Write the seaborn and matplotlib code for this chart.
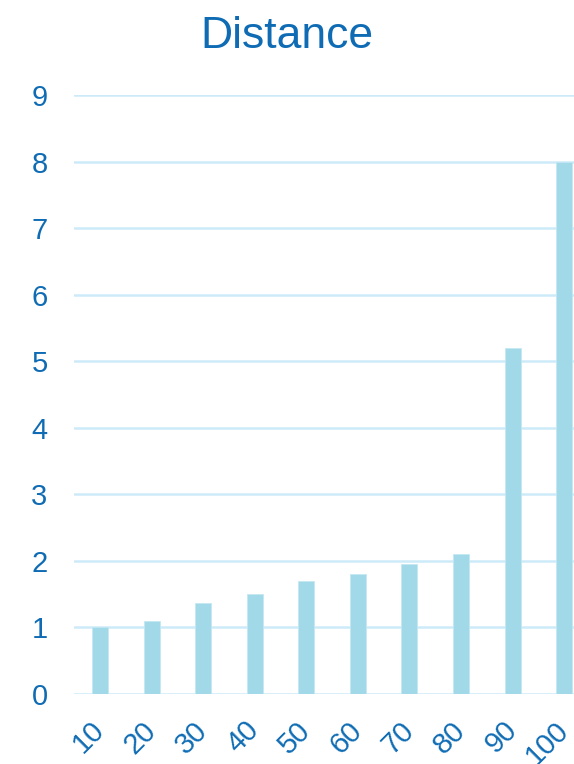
import matplotlib
matplotlib.use("Agg")
import matplotlib.pyplot as plt
import seaborn as sns
import pandas as pd

categories = ["10", "20", "30", "40", "50", "60", "70", "80", "90", "100"]
values = [1.0, 1.1, 1.36, 1.5, 1.7, 1.8, 1.95, 2.1, 5.2, 8.0]
yticks = [0, 1, 2, 3, 4, 5, 6, 7, 8, 9]
title = "Distance"

sns.set_theme(style="white")
plt.rcParams['font.family'] = ['Liberation Sans', 'DejaVu Sans']

TEXT = "#0f6cb4"
BAR = "#a2d9e8"
GRID = "#cdeaf9"

fig = plt.figure(figsize=(5.74, 7.64), dpi=100)
ax = fig.add_axes([74 / 574, 0.0916, 500 / 574, 0.7841])

df = pd.DataFrame({"cat": categories, "val": values})
sns.barplot(data=df, x="cat", y="val", ax=ax, color=BAR, saturation=1,
            width=0.31, edgecolor="#c4e8f2", linewidth=0.6, zorder=3)

ax.set_ylim(0, 9)
ax.set_xlim(-0.504, 9.19)
ax.set_yticks(yticks)
ax.set_yticklabels([str(t) for t in yticks])
ax.yaxis.grid(True, color=GRID, linewidth=1.8, zorder=0)
ax.set_axisbelow(True)
for s in ax.spines.values():
    s.set_visible(False)
ax.set_xlabel("")
ax.set_ylabel("")
ax.tick_params(axis="y", length=0, pad=19, labelsize=21, labelcolor=TEXT)
ax.tick_params(axis="x", length=0, pad=23, labelsize=21, labelcolor=TEXT)
for lab in ax.get_xticklabels():
    lab.set_rotation(45)
    lab.set_ha("right")
    lab.set_va("center")
    lab.set_rotation_mode("anchor")

fig.text(0.5, 0.952, title, ha="center", va="center", fontsize=32, color=TEXT)

fig.savefig("out.png", dpi=100)
